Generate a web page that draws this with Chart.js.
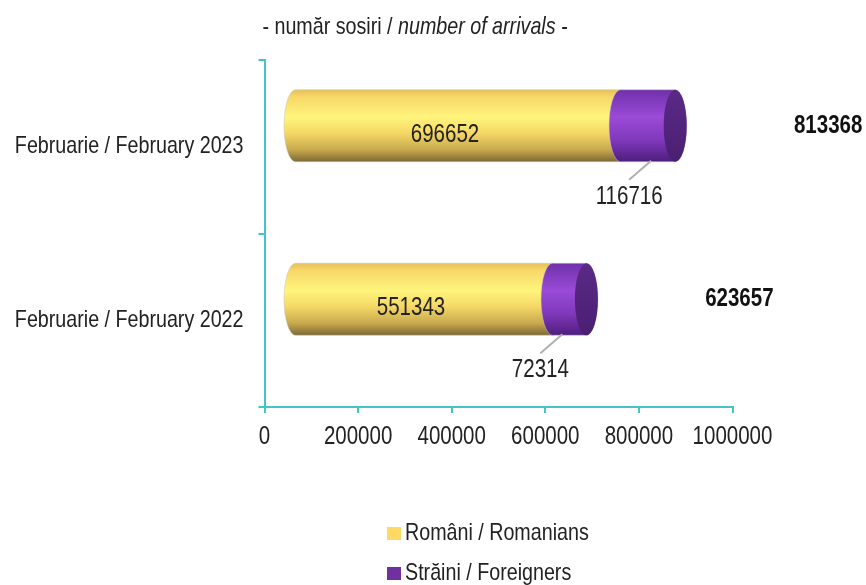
<!DOCTYPE html>
<html>
<head>
<meta charset="utf-8">
<script src="https://cdn.jsdelivr.net/npm/chart.js@4.4.1/dist/chart.umd.min.js"></script>
<style>
  html, body { margin: 0; padding: 0; background: #fff; }
  #wrap { width: 866px; height: 585px; position: relative; }
</style>
</head>
<body>
<div id="wrap"><canvas id="c" width="866" height="585"></canvas></div>
<script>
const categories = ['Februarie / February 2023', 'Februarie / February 2022'];
const romanians = [696652, 551343];
const foreigners = [116716, 72314];
const totals = [813368, 623657];
const xTicks = [0, 200000, 400000, 600000, 800000, 1000000];
const seriesNames = ['Români / Romanians', 'Străini / Foreigners'];
const titleNormal = '- număr sosiri / ';
const titleItalic = 'number of arrivals -';

const FONT = "'Liberation Sans', Arial, sans-serif";
const SX = 0.82; // narrow (Arial Narrow look)
const TEXT = '#222222';
const AXIS = '#45c4c4';

const DX = 30, DY = -21, RX = 11.5;

function txt(ctx, s, x, y, font, align, color) {
  ctx.save();
  ctx.font = font;
  ctx.fillStyle = color || TEXT;
  ctx.textAlign = align || 'center';
  ctx.textBaseline = 'middle';
  ctx.translate(x, y);
  ctx.scale(SX, 1);
  ctx.fillText(s, 0, 0);
  ctx.restore();
}
function measure(ctx, s, font) {
  ctx.save(); ctx.font = font; const w = ctx.measureText(s).width; ctx.restore();
  return w * SX;
}

function cylPath(ctx, x0, x1, top, bot) {
  const cy = (top + bot) / 2, ry = (bot - top) / 2;
  ctx.beginPath();
  ctx.moveTo(x0, top);
  ctx.lineTo(x1, top);
  ctx.ellipse(x1, cy, RX, ry, 0, -Math.PI / 2, Math.PI / 2, false);
  ctx.lineTo(x0, bot);
  ctx.ellipse(x0, cy, RX, ry, 0, Math.PI / 2, Math.PI * 1.5, false);
  ctx.closePath();
}

function yellowGrad(ctx, top, bot) {
  const g = ctx.createLinearGradient(0, top, 0, bot);
  g.addColorStop(0, '#e6c05a');
  g.addColorStop(0.1, '#f7d868');
  g.addColorStop(0.38, '#fff47c');
  g.addColorStop(0.6, '#f5d866');
  g.addColorStop(0.83, '#c9aa4e');
  g.addColorStop(1, '#7d6934');
  return g;
}
function purpleGrad(ctx, top, bot) {
  const g = ctx.createLinearGradient(0, top, 0, bot);
  g.addColorStop(0, '#7030aa');
  g.addColorStop(0.38, '#9a4bd8');
  g.addColorStop(0.7, '#8038bc');
  g.addColorStop(1, '#4e1e7c');
  return g;
}

const cylinderPlugin = {
  id: 'cyl',
  afterDatasetsDraw(chart) {
    const ctx = chart.ctx;
    const metas = [chart.getDatasetMeta(0), chart.getDatasetMeta(1)];
    const xs = chart.scales.x;
    ctx.save();
    for (let i = 0; i < categories.length; i++) {
      for (let d = 0; d < 2; d++) {
        const bar = metas[d].data[i];
        const h = bar.height;
        const top = bar.y - h / 2 + DY, bot = bar.y + h / 2 + DY;
        const x0 = bar.base + DX, x1 = bar.x + DX;
        cylPath(ctx, x0, x1, top, bot);
        ctx.fillStyle = d === 0 ? yellowGrad(ctx, top, bot) : purpleGrad(ctx, top, bot);
        ctx.fill();
        ctx.strokeStyle = 'rgba(200,200,200,0.5)';
        ctx.lineWidth = 1;
        ctx.stroke();
        if (d === 1) {
          const g = ctx.createLinearGradient(0, top, 0, bot);
          g.addColorStop(0, '#5a2a86');
          g.addColorStop(1, '#4a1f72');
          ctx.beginPath();
          ctx.ellipse(x1, (top + bot) / 2, RX, h / 2, 0, 0, Math.PI * 2);
          ctx.fillStyle = g;
          ctx.fill();
        }
      }
      const rb = metas[0].data[i];
      const fb = metas[1].data[i];
      txt(ctx, String(romanians[i]), (rb.base + rb.x) / 2 + 17, rb.y - 12, '25px ' + FONT);
      const lx = fb.x - 16, ly = fb.y + 50;
      const cylBot = fb.y + fb.height / 2 + DY;
      ctx.strokeStyle = '#b0b0b0';
      ctx.lineWidth = 2;
      ctx.beginPath();
      ctx.moveTo(lx + 22, cylBot - 1);
      ctx.lineTo(lx, ly - 17);
      ctx.stroke();
      txt(ctx, String(foreigners[i]), lx, ly, '25px ' + FONT);
      txt(ctx, String(totals[i]), xs.getPixelForValue(totals[i]) + 183, rb.y + DY, 'bold 25px ' + FONT, 'center', '#111');
    }
    ctx.restore();
  }
};

const decorPlugin = {
  id: 'decor',
  afterDraw(chart) {
    const ctx = chart.ctx;
    const xs = chart.scales.x, ys = chart.scales.y;
    xTicks.forEach(v => txt(ctx, String(v), xs.getPixelForValue(v), chart.chartArea.bottom + 30, '25px ' + FONT));
    categories.forEach((c, i) => txt(ctx, c, chart.chartArea.left - 21, ys.getPixelForValue(i), '24px ' + FONT, 'right'));
    const f1 = '24px ' + FONT, f2 = 'italic 24px ' + FONT;
    const w1 = measure(ctx, titleNormal, f1), w2 = measure(ctx, titleItalic, f2);
    const start = 415 - (w1 + w2) / 2;
    txt(ctx, titleNormal, start, 27, f1, 'left');
    txt(ctx, titleItalic, start + w1, 27, f2, 'left');
    const colors = ['#ffd966', '#7030a0'];
    const ly = [533, 573];
    for (let k = 0; k < 2; k++) {
      ctx.fillStyle = colors[k];
      ctx.fillRect(387, ly[k] - 6, 14, 13);
      txt(ctx, seriesNames[k], 405, ly[k], '24px ' + FONT, 'left');
    }
  }
};

new Chart(document.getElementById('c'), {
  type: 'bar',
  data: {
    labels: categories,
    datasets: [
      { label: seriesNames[0], data: romanians, backgroundColor: 'rgba(0,0,0,0)', borderWidth: 0 },
      { label: seriesNames[1], data: foreigners, backgroundColor: 'rgba(0,0,0,0)', borderWidth: 0 }
    ]
  },
  options: {
    indexAxis: 'y',
    responsive: false,
    animation: false,
    events: [],
    layout: { padding: { left: 0, top: 60, right: 133.5, bottom: 118 } },
    datasets: { bar: { categoryPercentage: 1, barPercentage: 0.415 } },
    plugins: { legend: { display: false }, tooltip: { enabled: false }, title: { display: false } },
    scales: {
      x: {
        stacked: true,
        min: 0, max: 1000000,
        afterBuildTicks(s) { s.ticks = xTicks.map(v => ({ value: v })); },
        afterFit(s) { s.height = 60; },
        border: { display: true, color: AXIS, width: 2 },
        grid: { drawOnChartArea: false, drawTicks: true, tickLength: 6, color: AXIS, lineWidth: 2 },
        ticks: { display: false }
      },
      y: {
        stacked: true,
        afterFit(s) { s.width = 264.5; },
        border: { display: true, color: AXIS, width: 2 },
        grid: { drawOnChartArea: false, drawTicks: true, tickLength: 6, color: AXIS, lineWidth: 2, offset: true },
        ticks: { display: false }
      }
    }
  },
  plugins: [cylinderPlugin, decorPlugin]
});
</script>
</body>
</html>
